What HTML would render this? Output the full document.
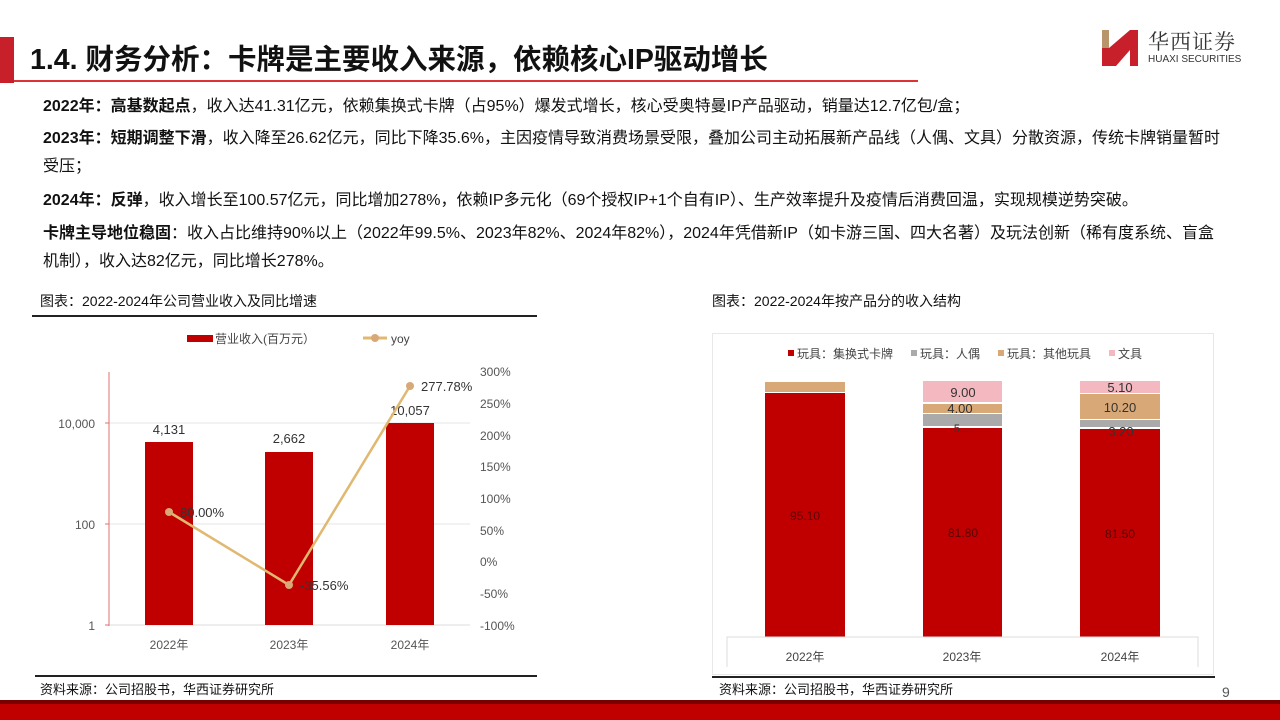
<!DOCTYPE html>
<html><head><meta charset="utf-8"><style>
*{margin:0;padding:0;box-sizing:border-box}
body{width:1280px;height:720px;position:relative;background:#fff;font-family:"Liberation Sans","Noto Sans CJK SC",sans-serif;color:#111;overflow:hidden}
.a{position:absolute;white-space:nowrap}
.t{font-size:16px;line-height:20px}
b{font-weight:bold}
</style></head><body>
<div class="a" style="left:0;top:37px;width:14px;height:46px;background:#c8202a"></div>
<div class="a" style="left:14px;top:80px;width:904px;height:2px;background:#d33"></div>
<div class="a" style="left:30px;top:42px;font-size:28.5px;font-weight:bold;line-height:36px">1.4. 财务分析：卡牌是主要收入来源，依赖核心IP驱动增长</div>
<svg class="a" style="left:1100px;top:28px" width="40" height="40" viewBox="0 0 40 40"><rect x="2" y="2" width="7" height="36" fill="#b8956a"/><polygon points="9,20 30,2 38,2 38,38 30,38 30,22 16,38 9,38" fill="#c8202a"/><rect x="2" y="20" width="7" height="18" fill="#c8202a"/></svg>
<div class="a" style="left:1148px;top:26px;font-size:21px;font-family:'Noto Serif CJK SC',serif;color:#333;letter-spacing:1px">华西证券</div>
<div class="a" style="left:1148px;top:54px;font-size:10px;color:#333">HUAXI SECURITIES</div>

<div class="a t" style="left:43px;top:97px"><b>2022年：高基数起点</b>，收入达41.31亿元，依赖集换式卡牌（占95%）爆发式增长，核心受奥特曼IP产品驱动，销量达12.7亿包/盒；</div>
<div class="a t" style="left:43px;top:129px"><b>2023年：短期调整下滑</b>，收入降至26.62亿元，同比下降35.6%，主因疫情导致消费场景受限，叠加公司主动拓展新产品线（人偶、文具）分散资源，传统卡牌销量暂时</div>
<div class="a t" style="left:43px;top:157px">受压；</div>
<div class="a t" style="left:43px;top:191px"><b>2024年：反弹</b>，收入增长至100.57亿元，同比增加278%，依赖IP多元化（69个授权IP+1个自有IP）、生产效率提升及疫情后消费回温，实现规模逆势突破。</div>
<div class="a t" style="left:43px;top:224px"><b>卡牌主导地位稳固</b>：收入占比维持90%以上（2022年99.5%、2023年82%、2024年82%），2024年凭借新IP（如卡游三国、四大名著）及玩法创新（稀有度系统、盲盒</div>
<div class="a t" style="left:43px;top:252px">机制），收入达82亿元，同比增长278%。</div>

<div class="a" style="left:40px;top:291px;font-size:14px">图表：2022-2024年公司营业收入及同比增速</div>
<div class="a" style="left:32px;top:315px;width:505px;height:2px;background:#222"></div>
<div class="a" style="left:712px;top:291px;font-size:14px">图表：2022-2024年按产品分的收入结构</div>

<svg class="a" style="left:0;top:320px" width="560" height="350" font-family="Liberation Sans,Noto Sans CJK SC,sans-serif">
<g transform="translate(0,-320)">
<rect x="187" y="335" width="26" height="7" fill="#c00000"/>
<text x="215" y="343" font-size="12" fill="#444">营业收入(百万元）</text>
<line x1="363" y1="338" x2="387" y2="338" stroke="#e0b870" stroke-width="3"/><circle cx="375" cy="338" r="4" fill="#d9a877"/>
<text x="391" y="343" font-size="12" fill="#444">yoy</text>
<line x1="109" y1="423" x2="470" y2="423" stroke="#e6e6e6"/>
<line x1="109" y1="524" x2="470" y2="524" stroke="#e6e6e6"/>
<line x1="109" y1="625" x2="470" y2="625" stroke="#ddd"/>
<line x1="109" y1="372" x2="109" y2="626" stroke="#e07070"/>
<line x1="105" y1="423" x2="109" y2="423" stroke="#e07070"/><line x1="105" y1="524" x2="109" y2="524" stroke="#e07070"/><line x1="105" y1="625" x2="109" y2="625" stroke="#e07070"/>
<text x="95" y="428" font-size="12" fill="#555" text-anchor="end">10,000</text>
<text x="95" y="529" font-size="12" fill="#555" text-anchor="end">100</text>
<text x="95" y="630" font-size="12" fill="#555" text-anchor="end">1</text>
<rect x="145" y="442" width="48" height="183" fill="#c00000"/>
<rect x="265" y="452" width="48" height="173" fill="#c00000"/>
<rect x="386" y="423" width="48" height="202" fill="#c00000"/>
<g font-size="13" fill="#333" text-anchor="middle"><text x="169" y="434">4,131</text><text x="289" y="443">2,662</text><text x="410" y="415">10,057</text></g>
<polyline points="169,512 289,585 410,386" fill="none" stroke="#e0b870" stroke-width="2.5"/>
<circle cx="169" cy="512" r="4" fill="#d9a877"/><circle cx="289" cy="585" r="4" fill="#d9a877"/><circle cx="410" cy="386" r="4" fill="#d9a877"/>
<g font-size="13" fill="#333"><text x="180" y="517">80.00%</text><text x="300" y="590">-35.56%</text><text x="421" y="391">277.78%</text></g>
<g font-size="12" fill="#555"><text x="480" y="376">300%</text><text x="480" y="408">250%</text><text x="480" y="440">200%</text><text x="480" y="471">150%</text><text x="480" y="503">100%</text><text x="480" y="535">50%</text><text x="480" y="566">0%</text><text x="480" y="598">-50%</text><text x="480" y="630">-100%</text></g>
<g font-size="12" fill="#555" text-anchor="middle"><text x="169" y="649">2022年</text><text x="289" y="649">2023年</text><text x="410" y="649">2024年</text></g>
</g></svg>

<div class="a" style="left:712px;top:333px;width:502px;height:342px;border:1px solid #e8e8e8"></div>
<svg class="a" style="left:700px;top:330px" width="530" height="345" font-family="Liberation Sans,Noto Sans CJK SC,sans-serif">
<g transform="translate(-700,-330)">
<g font-size="12" fill="#444">
<rect x="788" y="350" width="6" height="6" fill="#c00000"/><text x="797" y="358">玩具：集换式卡牌</text>
<rect x="911" y="350" width="6" height="6" fill="#aaa"/><text x="920" y="358">玩具：人偶</text>
<rect x="998" y="350" width="6" height="6" fill="#d9a877"/><text x="1007" y="358">玩具：其他玩具</text>
<rect x="1109" y="350" width="6" height="6" fill="#f4b8c0"/><text x="1118" y="358">文具</text>
</g>
<rect x="765" y="382" width="80" height="10" fill="#d9a877"/>
<rect x="765" y="393" width="80" height="244" fill="#c00000"/>
<rect x="923" y="381" width="79" height="21" fill="#f4b8c0"/>
<rect x="923" y="404" width="79" height="9" fill="#d9a877"/>
<rect x="923" y="414" width="79" height="12" fill="#aaa"/>
<rect x="923" y="428" width="79" height="209" fill="#c00000"/>
<rect x="1080" y="381" width="80" height="12" fill="#f4b8c0"/>
<rect x="1080" y="394" width="80" height="25" fill="#d9a877"/>
<rect x="1080" y="420" width="80" height="7" fill="#aaa"/>
<rect x="1080" y="429" width="80" height="208" fill="#c00000"/>
<g font-size="13" fill="#333" text-anchor="middle">
<text x="963" y="397">9.00</text><text x="960" y="413">4.00</text><text x="963" y="432" font-size="11">5....</text>
<text x="1120" y="392">5.10</text><text x="1120" y="412">10.20</text><text x="1121" y="436">3.20</text>
</g>
<g font-size="12" fill="#5a0000" text-anchor="middle"><text x="805" y="520">95.10</text><text x="963" y="537">81.80</text><text x="1120" y="538">81.50</text></g>
<path d="M727,667 V637 H1198 V667" fill="none" stroke="#ddd"/>
<g font-size="12" fill="#444" text-anchor="middle"><text x="805" y="661">2022年</text><text x="962" y="661">2023年</text><text x="1120" y="661">2024年</text></g>
</g></svg>

<div class="a" style="left:35px;top:675px;width:502px;height:2px;background:#222"></div>
<div class="a" style="left:712px;top:676px;width:503px;height:2px;background:#222"></div>
<div class="a" style="left:40px;top:679px;font-size:13px">资料来源：公司招股书，华西证券研究所</div>
<div class="a" style="left:719px;top:679px;font-size:13px">资料来源：公司招股书，华西证券研究所</div>
<div class="a" style="left:1222px;top:684px;font-size:14px;color:#555">9</div>
<div class="a" style="left:0;top:700px;width:1280px;height:4px;background:#7a0000"></div>
<div class="a" style="left:0;top:704px;width:1280px;height:16px;background:#c00000"></div>
</body></html>
